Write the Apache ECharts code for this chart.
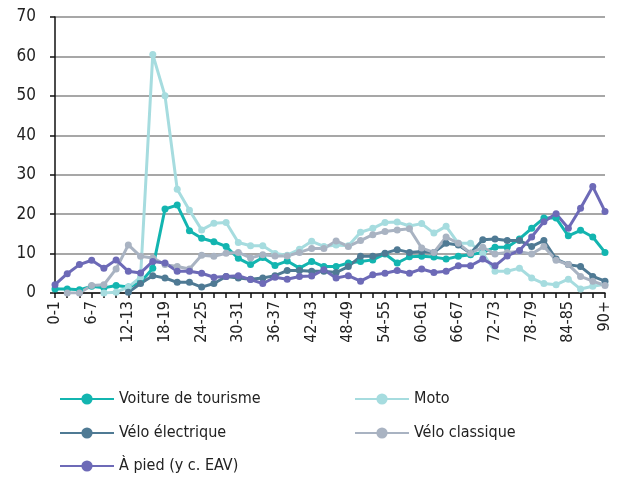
<!DOCTYPE html>
<html>
<head>
<meta charset="utf-8">
<script src="https://cdn.jsdelivr.net/npm/echarts@6/dist/echarts.min.js"></script>
<style>
  html, body { margin: 0; padding: 0; background: #fff; }
  #chart { width: 629px; height: 479px; }
</style>
</head>
<body>
<div id="chart"></div>
<script>
  // age groups 0-1 ... 88-89, 90+
  const categories = []
  for (let a = 0; a < 90; a += 2) categories.push(a + '-' + (a + 1))
  categories.push('90+')

  const voiture = [1.0, 1.0, 0.8, 1.7, 1.3, 1.9, 1.5, 2.7, 6.3, 21.3, 22.3, 15.8, 13.9, 13.0, 11.8, 8.8, 7.2, 9.0, 7.0, 8.1, 6.3, 8.0, 6.7, 6.7, 7.6, 8.0, 8.4, 9.9, 7.6, 9.2, 9.3, 9.1, 8.6, 9.3, 9.7, 10.3, 11.6, 11.6, 13.7, 16.4, 19.0, 19.0, 14.5, 15.9, 14.2, 10.3]
  const moto = [null, null, null, null, 0, 0.2, 1.5, 4.0, 60.5, 50.0, 26.3, 21.0, 16.0, 17.7, 17.9, 12.8, 12.0, 12.0, 10.0, 9.6, 11.1, 13.1, 11.8, 12.2, 12.0, 15.4, 16.4, 17.9, 18.0, 17.0, 17.6, 15.2, 16.9, 12.6, 12.6, 10.1, 5.5, 5.5, 6.3, 3.8, 2.4, 2.1, 3.5, 1.0, 1.7, 2.2]
  const veloElectrique = [null, null, null, null, null, null, 0.2, 2.4, 4.4, 3.8, 2.7, 2.7, 1.5, 2.4, 4.2, 3.8, 3.5, 3.8, 4.4, 5.7, 5.7, 5.5, 5.5, 5.2, 6.7, 9.3, 9.3, 10.1, 11.0, 10.3, 10.5, 10.3, 12.6, 12.2, 10.1, 13.5, 13.7, 13.3, 13.3, 11.8, 13.3, 8.6, 7.2, 6.7, 4.2, 3.0]
  const veloClassique = [null, 0, 0, 1.9, 2.1, 6.1, 12.2, 9.3, 8.9, 7.2, 6.7, 6.1, 9.6, 9.3, 10.1, 10.3, 8.9, 9.7, 9.4, 9.4, 10.3, 11.3, 11.3, 13.2, 11.8, 13.3, 14.8, 15.6, 16.0, 16.3, 11.4, 10.3, 14.2, 12.6, 10.1, 11.6, 9.9, 10.3, 10.5, 9.9, 11.8, 8.3, 7.2, 4.2, 3.0, 1.9]
  const aPied = [2.1, 4.9, 7.2, 8.3, 6.3, 8.4, 5.5, 5.1, 8.0, 7.6, 5.5, 5.5, 5.0, 4.0, 4.2, 4.4, 3.4, 2.4, 4.0, 3.5, 4.2, 4.3, 5.9, 3.8, 4.4, 3.0, 4.6, 5.0, 5.7, 5.0, 6.1, 5.2, 5.5, 6.9, 6.9, 8.6, 6.9, 9.4, 10.8, 14.2, 18.1, 20.1, 16.4, 21.5, 27.0, 20.7]

  const yTicks = { min: 0, max: 70, interval: 10 }

  const fontFamily = '"Liberation Sans Narrow", "DejaVu Sans Condensed", "Liberation Sans", sans-serif'

  function lineSeries(name, data, color) {
    return {
      name: name,
      type: 'line',
      data: data,
      symbol: 'circle',
      symbolSize: 7,
      showSymbol: true,
      connectNulls: false,
      lineStyle: { color: color, width: 3 },
      itemStyle: { color: color },
      emphasis: { disabled: true }
    }
  }

  // one legend per item so the two-column layout stays fixed
  function legendItem(name, left, top) {
    return {
      data: [name],
      left: left,
      top: top,
      itemWidth: 54,
      itemHeight: 14,
      padding: 0,
      textStyle: { fontSize: 16, color: '#222', fontFamily: fontFamily }
    }
  }

  const chart = echarts.init(document.getElementById('chart'), null, { renderer: 'canvas' })
  chart.setOption({
    animation: false,
    textStyle: { fontFamily: fontFamily },
    grid: { left: 55, right: 24, top: 17, bottom: 186, containLabel: false },
    legend: [
      legendItem('Voiture de tourisme', 59, 391),
      legendItem('Moto', 354, 391),
      legendItem('Vélo électrique', 59, 425),
      legendItem('Vélo classique', 354, 425),
      legendItem('À pied (y c. EAV)', 59, 458)
    ],
    xAxis: {
      type: 'category',
      data: categories,
      boundaryGap: false,
      axisLine: { show: true, lineStyle: { color: '#111', width: 1.5 } },
      axisTick: { show: true, alignWithLabel: true, interval: 0, length: 5, lineStyle: { color: '#111', width: 1.5 } },
      axisLabel: { interval: 2, rotate: 90, fontSize: 16, color: '#222', margin: 8, fontFamily: fontFamily },
      splitLine: { show: false }
    },
    yAxis: {
      type: 'value',
      min: yTicks.min,
      max: yTicks.max,
      interval: yTicks.interval,
      axisLine: { show: true, lineStyle: { color: '#111', width: 1.5 } },
      axisTick: { show: true, length: 5, lineStyle: { color: '#111', width: 1.5 } },
      axisLabel: { fontSize: 17, color: '#222', margin: 19, fontFamily: fontFamily },
      splitLine: { show: true, lineStyle: { color: '#8a8a8a', width: 1.5 } }
    },
    series: [
      lineSeries('Voiture de tourisme', voiture, '#13b5b0'),
      lineSeries('Moto', moto, '#a6dcdf'),
      lineSeries('Vélo électrique', veloElectrique, '#4f7a94'),
      lineSeries('Vélo classique', veloClassique, '#a9b3c2'),
      lineSeries('À pied (y c. EAV)', aPied, '#6d6ab7')
    ]
  })
</script>
</body>
</html>
